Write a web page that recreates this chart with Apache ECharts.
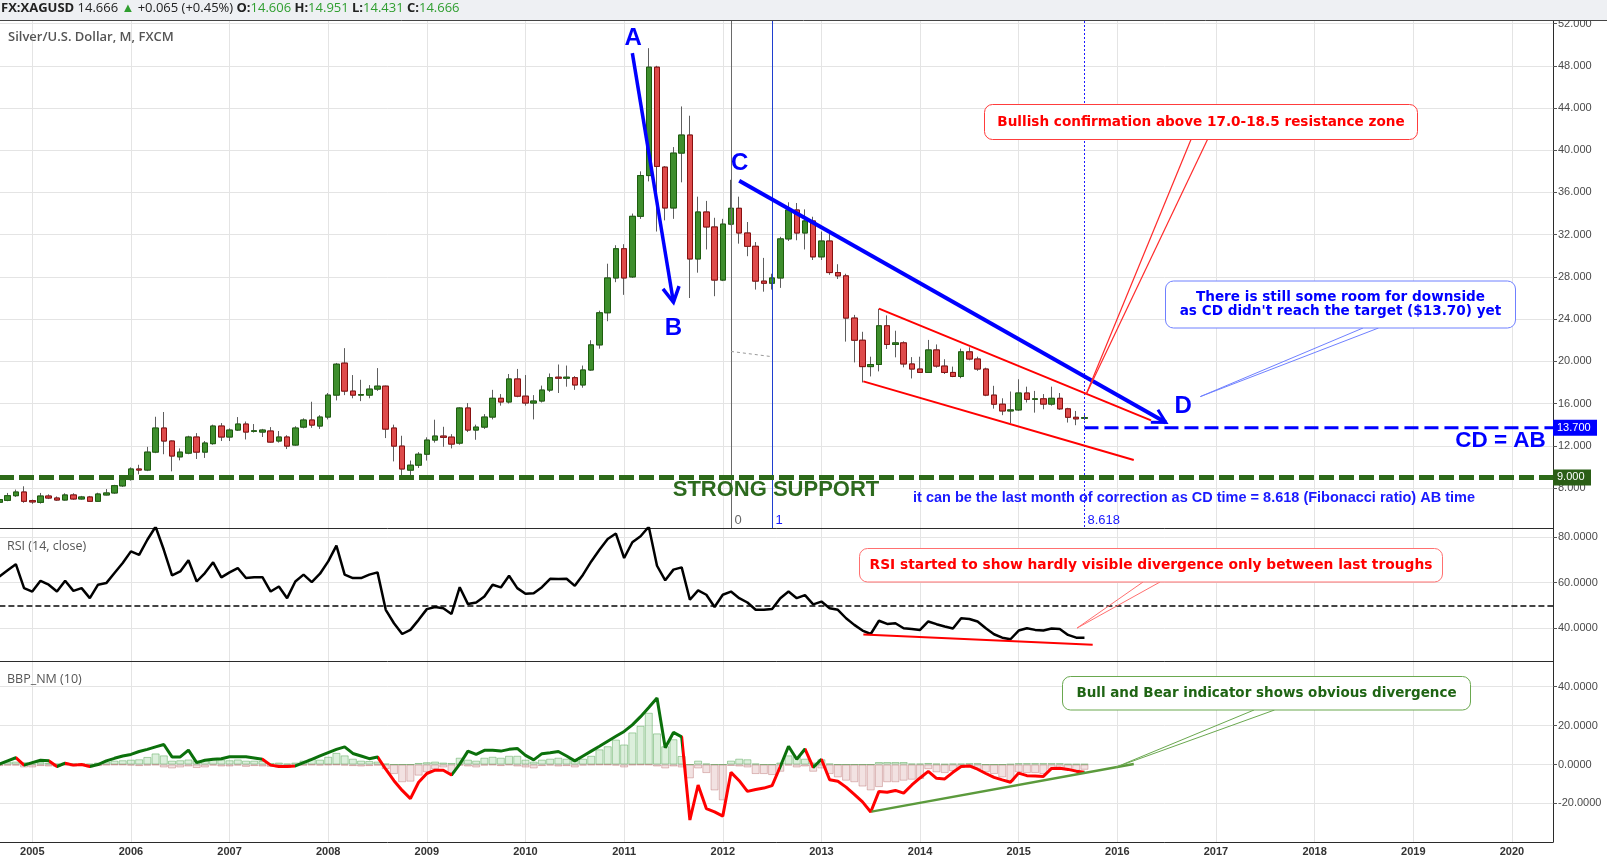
<!DOCTYPE html>
<html><head><meta charset="utf-8">
<script src="https://cdn.jsdelivr.net/npm/echarts@6/dist/echarts.min.js"></script>
<style>html,body{margin:0;padding:0;background:#fff;}#c{width:1607px;height:863px;}</style>
</head><body><div id="c"></div>
<script>
// ---------- categories (monthly, Sep 2004 .. Jun 2020) ----------
const startYear = 2004, startMonth = 9, monthCount = 190;
const categories = [];
for (let k = 0; k < monthCount; k++) {
  const m = startMonth - 1 + k;
  categories.push((startYear + Math.floor(m / 12)) + '-' + String(m % 12 + 1).padStart(2, '0'));
}

// ---------- price candles [open, close, low, high] ----------
const ohlc = [
  // 2004 Sep-Dec
  [6.65,6.9,6.55,7.0],[6.83,7.27,6.75,7.53],[7.27,7.62,7.15,7.85],[7.62,6.74,6.6,8.16],
  // 2005
  [6.8,6.68,6.5,6.9],[6.64,7.24,6.52,7.53],[7.24,7.05,6.95,7.4],[7.05,6.86,6.78,7.2],[6.86,7.34,6.8,7.5],[7.34,6.96,6.88,7.5],
  [6.96,7.15,6.9,7.25],[7.15,6.74,6.68,7.25],[6.74,7.43,6.7,7.55],[7.34,7.53,7.3,7.9],[7.53,8.22,7.45,8.3],[8.2,8.8,8.1,8.95],
  // 2006
  [8.8,9.8,8.7,9.95],[9.8,9.7,9.3,10.2],[9.7,11.4,9.6,11.9],[11.4,13.68,11.3,14.75],[13.68,12.45,11.2,15.2],[12.45,11.03,9.58,12.5],
  [10.95,11.4,10.62,11.75],[11.3,12.83,11.2,12.95],[12.83,11.4,10.75,13.2],[11.4,12.26,10.85,12.45],[12.2,13.87,12.1,14.0],[13.87,12.83,12.45,14.15],
  // 2007
  [12.83,13.49,12.45,13.65],[13.49,14.06,13.4,14.72],[14.06,13.3,12.6,14.3],[13.37,13.42,13.25,14.06],[13.3,13.49,12.83,13.6],[13.4,12.35,12.3,13.77],
  [12.45,12.83,12.3,13.4],[12.83,11.97,11.69,13.0],[12.07,13.68,12.0,13.85],[13.77,14.44,13.65,14.6],[14.44,13.96,13.7,16.17],[13.87,14.72,13.6,14.9],
  // 2008
  [14.72,16.8,14.5,17.0],[16.8,19.73,16.3,19.85],[19.83,17.18,16.8,21.25],[17.18,16.8,16.5,18.7],[16.8,16.85,16.23,18.25],[16.8,17.37,16.5,17.75],
  [17.37,17.65,17.2,19.36],[17.65,13.58,12.73,17.7],[13.68,11.97,10.52,14.0],[11.97,9.8,8.9,12.95],[9.69,10.16,9.15,10.6],[10.16,11.2,9.9,11.4],
  // 2009
  [11.2,12.54,10.6,12.8],[12.54,12.92,12.3,14.47],[12.92,12.8,11.9,13.8],[12.82,12.16,11.75,13.1],[12.25,15.58,12.1,15.65],[15.58,13.49,13.3,16.05],
  [13.49,13.77,12.57,14.0],[13.77,14.72,13.6,15.0],[14.72,16.5,14.5,17.3],[16.5,16.15,15.8,16.9],[16.15,18.33,16.0,18.8],[18.33,16.7,16.6,19.28],
  // 2010
  [16.7,16.05,15.8,18.7],[16.05,16.24,14.5,16.8],[16.24,17.28,16.1,17.7],[17.28,18.45,17.1,18.85],[18.5,18.4,17.0,19.7],[18.4,18.5,17.6,19.6],
  [18.45,17.76,17.3,18.6],[17.76,19.18,17.5,19.6],[19.18,21.56,19.1,22.0],[21.56,24.6,21.2,24.8],[24.6,27.9,23.8,29.25],[27.9,30.67,27.5,31.0],
  // 2011
  [30.67,27.9,26.3,31.1],[28.0,33.74,27.9,34.0],[33.74,37.6,33.5,38.0],[37.6,47.87,37.05,49.67],[47.87,38.47,32.3,48.0],[38.4,34.53,33.36,38.5],
  [34.53,39.73,33.5,40.3],[39.73,41.44,36.96,44.15],[41.44,29.7,26.0,43.27],[29.7,34.15,28.4,35.6],[34.15,32.73,30.6,35.2],[32.73,27.7,26.17,33.6],
  // 2012
  [27.7,33.0,27.6,33.5],[33.0,34.5,32.9,37.2],[34.5,32.16,31.15,35.6],[32.16,30.9,29.96,33.2],[30.9,27.6,26.8,31.3],[27.6,27.4,26.6,29.8],
  [27.4,27.9,26.8,28.3],[27.9,31.6,26.96,31.8],[31.6,34.34,31.4,35.07],[34.34,32.16,31.47,35.0],[32.16,33.3,30.6,34.4],[33.3,29.9,29.6,33.7],
  // 2013
  [29.9,31.4,29.6,32.3],[31.4,28.41,28.2,32.1],[28.41,28.1,27.8,29.2],[28.1,24.1,21.87,28.3],[24.1,22.0,19.9,24.4],[22.0,19.5,18.0,22.8],
  [19.5,19.7,18.57,20.44],[19.7,23.37,19.05,24.98],[23.37,21.6,21.17,24.35],[21.6,21.75,20.38,22.9],[21.75,19.75,19.43,21.9],[19.75,19.27,18.38,20.4],
  // 2014
  [19.27,18.95,18.9,20.44],[18.95,21.08,18.9,22.03],[21.08,19.55,19.4,21.6],[19.55,18.95,18.8,20.2],[18.95,18.57,18.5,19.5],[18.57,20.9,18.4,21.2],
  [20.9,20.22,20.1,21.33],[20.22,19.27,19.1,20.44],[19.27,16.8,16.7,19.4],[16.8,15.94,15.52,17.68],[15.94,15.3,14.9,16.5],[15.3,15.4,14.15,17.14],
  // 2015 Jan-Sep
  [15.4,17.0,15.3,18.3],[17.0,16.4,16.1,17.6],[16.4,16.45,15.14,17.2],[16.45,15.95,15.46,16.9],[15.95,16.5,15.8,17.6],[16.5,15.5,15.4,17.0],
  [15.5,14.7,14.2,15.6],[14.7,14.55,13.95,15.3],[14.606,14.666,14.431,14.951]
];

// ---------- RSI (14, close) ----------
const rsi = [
  62.7,65.4,68.1,57.6,
  56.1,60.8,59.1,56.1,60.8,56.4,57.6,53.2,59.1,59.8,64.2,68.6,
  73.7,72.2,78.8,84.5,74.4,63.2,64.9,69.8,60.5,64.2,68.9,62.3,
  64.5,66.4,62.0,62.4,62.4,56.1,58.3,53.2,60.5,63.5,60.2,63.9,
  69.3,76.2,63.5,62.0,62.0,63.5,64.5,48.1,42.2,37.5,39.3,43.7,
  48.4,49.3,48.8,46.3,58.0,50.6,51.3,53.9,59.1,57.9,63.0,57.6,
  55.1,55.4,58.0,61.7,61.6,61.7,58.6,63.5,69.3,74.4,79.1,81.5,
  70.8,77.7,80.3,84.5,67.4,61.0,65.7,66.7,52.5,56.6,54.7,49.3,
  54.7,56.1,53.2,51.3,48.1,48.1,48.5,53.2,56.1,53.2,54.5,50.5,
  51.7,48.8,48.1,44.4,41.5,39.0,37.5,43.3,41.9,42.2,40.0,39.7,
  39.3,43.0,41.8,40.8,39.9,44.4,44.1,43.0,40.0,37.4,35.9,35.2,
  39.0,40.0,39.3,39.0,39.9,39.7,37.1,35.9,35.9
];

// ---------- BBP_NM (10) line ----------
const bbpLine = [
  0.2,1.9,3.5,-0.3,
  1.0,2.2,1.9,-1.0,0.7,-0.3,0,-1.0,0,1.9,3.2,4.4,
  5.2,6.7,7.8,9.1,10.3,3.9,3.9,7.4,1.0,2.2,2.7,3.0,
  4.0,4.0,4.0,3.4,2.7,-0.3,-1.0,-1.0,-0.7,1.0,2.7,4.4,
  6.1,7.8,9.1,5.7,4.4,3.0,3.9,-2.4,-8.3,-13.3,-17.5,-9.1,
  -4.6,-2.9,-2.9,-5.4,0.2,6.9,5.2,7.3,7.3,6.9,7.8,8.3,
  4.7,2.4,5.6,6.1,6.7,4.4,1.9,4.4,6.9,9.4,12.0,14.5,
  17.0,20.4,24.6,29.3,34.2,8.6,16.5,14.2,-28.5,-10.5,-22.6,-24.3,
  -26.5,-4.0,-8.3,-13.8,-12.8,-12.1,-10.8,-1.0,9.4,2.7,8.0,-1.5,
  2.7,-7.8,-8.6,-11.6,-15.3,-19.2,-24.4,-13.8,-14.2,-13.3,-14.7,-10.5,
  -6.9,-3.5,-7.1,-7.4,-4.0,-1.0,-0.7,-2.4,-4.6,-6.6,-7.9,-9.1,
  -4.4,-5.7,-5.9,-6.1,-2.0,-1.9,-2.5,-3.4,-4.0
];
// month-index ranges where the BBP line is drawn red
const bbpRedRanges = [[2,3],[6,7],[8,11],[32,36],[46,55],[83,95],[98,99],[100,132]];

// ---------- bull / bear power histogram ----------
const bullPower = [
  1.0,1.5,1.5,1.2,
  0.5,1.2,0.8,0.5,1.0,0.6,0.5,0.4,1.0,1.5,2.0,2.2,
  2.5,2.7,3.9,5.7,4.7,2.0,2.2,2.6,2.0,2.2,2.8,2.5,
  2.2,2.6,2.0,2.0,1.8,0.8,1.0,0.5,1.0,2.0,3.0,2.5,
  4.0,6.0,4.7,3.0,2.0,1.8,1.5,0.5,0,0,0,0.8,
  1.2,1.5,1.0,0.8,3.5,2.5,2.0,3.5,4.0,3.5,4.5,4.5,
  2.5,1.5,2.5,3.0,3.5,3.0,2.0,3.0,4.5,7.8,9.4,12.8,
  10.3,16.5,19.9,26.6,16.0,9.4,13.0,4.4,0,2.0,0.5,0,
  0,2.0,3.0,2.7,0.5,0,0,1.0,4.7,4.0,3.0,1.0,
  2.7,0.5,0,0,0,0,0,1.3,1.3,1.3,1.3,0.5,
  0.5,0.8,0.5,0.3,0.5,0.5,0.7,0.7,0,0,0,0.3,
  0.7,0.7,0.7,0.7,0.7,0.7,0.3,0.3,0.3
];
const bearPower = [
  -0.8,-0.5,-0.5,-1.5,
  -1.5,-0.8,-1.0,-1.2,-0.5,-1.0,-0.8,-1.5,-0.8,-0.3,-0.2,-0.2,
  -0.5,-0.8,-0.5,-0.3,-1.5,-2.0,-1.5,-1.0,-1.8,-1.5,-0.5,-1.0,
  -1.0,-0.5,-1.2,-0.8,-1.0,-1.2,-1.5,-1.8,-0.8,-0.5,-0.3,-0.5,
  -0.3,-0.2,-0.5,-0.8,-1.0,-0.8,-0.5,-2.4,-4.9,-9.1,-8.8,-5.7,
  -4.0,-2.4,-1.5,-4.4,-0.5,-1.0,-1.5,-0.5,-0.3,-0.8,-0.3,-1.0,
  -1.5,-2.0,-0.8,-0.5,-1.0,-0.8,-1.5,-0.5,-0.3,-0.2,-0.2,-0.5,
  -1.5,-0.3,-0.2,-0.2,-1.0,-2.0,-1.0,-1.5,-7.1,-2.0,-4.4,-13.3,
  -18.4,-0.7,-1.0,-1.5,-4.9,-4.9,-5.4,-3.7,-0.5,-1.5,-1.0,-3.7,
  -2.0,-4.9,-6.6,-8.3,-9.1,-11.3,-13.3,-11.6,-9.1,-9.1,-8.3,-7.8,
  -7.4,-2.4,-4.0,-4.4,-3.4,-1.7,-1.0,-2.4,-4.0,-4.9,-6.6,-8.8,
  -4.0,-4.4,-4.4,-4.9,-2.7,-2.0,-2.7,-3.2,-2.7
];

// ---------- axis ticks ----------
const priceTicks = [8,12,16,20,24,28,32,36,40,44,48,52];
const rsiTicks = [40,60,80];
const bbpTicks = [-20,0,20,40];

// ---------- annotation anchors (month index, value) ----------
const abArrow = [[77.0,49.2],[82.0,25.6]];
const cdLine = [[90.0,37.1],[141.9,14.2]];
const channelTop = [[107.0,25.0],[140.1,14.4]];
const channelBottom = [[105.1,18.1],[138.0,10.65]];
const pointLabels = [['A',77.1,50.6],['B',82.0,23.16],['C',90.05,38.8],['D',144.0,15.77]];
const supportLevel = 9.0, targetLevel = 13.7, targetStart = 132;
const fibIdx = [89,94,132], fibLabels = ['0','1','8.618'];
const fibDash = [[89,20.94],[94,20.44]];
const rsiDivergence = [[105.1,37.3],[133.0,32.8]];
const bbpDivergence = [[106.1,-24.2],[138.0,0.3]];
const tipBullish = [132.2,16.85], tipRoom = [146.1,16.66], tipRsi = [131.1,40.1], tipBbp = [135.8,-1.4];

// ---------- chart ----------
const chart = echarts.init(document.getElementById('c'));
const isJan = (idx, val) => String(val).slice(5) === '01';
const gridColor = '#e4e4e4';
const axisFont = 'Liberation Sans, Arial, sans-serif';
const noteFont = '"DejaVu Sans", Verdana, sans-serif';

function yAx(g, min, max, ticks, dec) {
  return {
    type: 'value', gridIndex: g, position: 'right', min, max,
    axisLine: { show: true, lineStyle: { color: '#2b2b2b', width: 1 } },
    axisTick: { show: true, length: 4, customValues: ticks, lineStyle: { color: '#555' } },
    axisLabel: { customValues: ticks, formatter: v => Number(v).toFixed(dec), color: '#4a4a4a', fontSize: 11, fontFamily: axisFont, margin: 5 },
    splitLine: { show: true, lineStyle: { color: gridColor, width: 1 } }
  };
}

const bodies = ohlc.map(d => [d[0], d[1], Math.min(d[0], d[1]), Math.max(d[0], d[1])]);

const option = {
  animation: false,
  backgroundColor: '#ffffff',
  grid: [
    { left: -0.6, right: 54, top: 20, height: 508, outerBoundsMode: 'none' },
    { left: -0.6, right: 54, top: 528, height: 133, outerBoundsMode: 'none' },
    { left: -0.6, right: 54, top: 661, height: 181, outerBoundsMode: 'none' }
  ],
  xAxis: [0, 1, 2].map(g => ({
    type: 'category', gridIndex: g, data: categories, boundaryGap: false,
    axisLine: { show: true, onZero: false, lineStyle: { color: '#2b2b2b', width: 1 } },
    axisTick: { show: false },
    axisLabel: { show: g === 2, interval: isJan, formatter: v => v.slice(0, 4), color: '#333', fontWeight: 'bold', fontSize: 11, fontFamily: axisFont, margin: 4 },
    splitLine: { show: true, interval: isJan, alignWithLabel: true, lineStyle: { color: gridColor, width: 1 } }
  })),
  yAxis: [
    yAx(0, 4.21, 52.34, priceTicks, 3),
    yAx(1, 25.67, 83.94, rsiTicks, 4),
    yAx(2, -39.8, 53.2, bbpTicks, 4)
  ],
  visualMap: [{
    type: 'piecewise', show: false, seriesIndex: 5, dimension: 0,
    pieces: bbpRedRanges.map(r => ({ gte: r[0], lte: r[1], color: '#ff0000' })),
    outOfRange: { color: '#0b700b' }
  }],
  series: [
    { type: 'candlestick', xAxisIndex: 0, yAxisIndex: 0, data: ohlc, barWidth: 6, z: 2,
      itemStyle: { color: 'rgba(0,0,0,0)', color0: 'rgba(0,0,0,0)', borderColor: '#5e5e5e', borderColor0: '#5e5e5e', borderColorDoji: '#5e5e5e', borderWidth: 1 } },
    { type: 'candlestick', xAxisIndex: 0, yAxisIndex: 0, data: bodies, barWidth: 6, z: 3,
      itemStyle: { color: '#3e8e2d', color0: '#de4b4b', borderColor: '#1d5e0e', borderColor0: '#8a0f0f', borderColorDoji: '#1d5e0e', borderWidth: 1 } },
    { type: 'line', xAxisIndex: 1, yAxisIndex: 1, data: rsi, symbol: 'none', z: 5,
      lineStyle: { color: '#000', width: 2.5 },
      markLine: { silent: true, symbol: 'none', label: { show: false }, lineStyle: { color: '#444', type: [6, 3], width: 2 }, data: [{ yAxis: 50 }] } },
    { type: 'bar', xAxisIndex: 2, yAxisIndex: 2, data: bullPower, barWidth: 8, z: 2,
      itemStyle: { color: 'rgba(110,190,110,0.24)', borderColor: 'rgba(90,170,90,0.5)', borderWidth: 1 } },
    { type: 'bar', xAxisIndex: 2, yAxisIndex: 2, data: bearPower, barWidth: 8, barGap: '-100%', z: 2,
      itemStyle: { color: 'rgba(190,110,110,0.2)', borderColor: 'rgba(180,100,100,0.4)', borderWidth: 1 } },
    { type: 'line', xAxisIndex: 2, yAxisIndex: 2, data: bbpLine, symbol: 'none', z: 5, lineStyle: { width: 3 } }
  ]
};
chart.setOption(option);

// ---------- drawn annotations ----------
const AXIS_X = 1553;
function P(g, i, v) {
  const i0 = Math.floor(i), f = i - i0;
  const a = chart.convertToPixel({ gridIndex: g }, [i0, v]);
  const b = chart.convertToPixel({ gridIndex: g }, [i0 + 1, v]);
  return [a[0] + f * (b[0] - a[0]), a[1]];
}
const G = [];
function line(a, b, stroke, w, dash, z) {
  G.push({ type: 'line', silent: true, z: z || 60, shape: { x1: a[0], y1: a[1], x2: b[0], y2: b[1] },
    style: { stroke, lineWidth: w, lineDash: dash || null, lineCap: 'butt' } });
}
function text(x, y, t, font, fill, align, z) {
  G.push({ type: 'text', silent: true, z: z || 70, x, y,
    style: { text: t, font, fill, align: align || 'left', verticalAlign: 'middle', textAlign: align || 'left', textVerticalAlign: 'middle' } });
}
function rect(x, y, w, h, fill, stroke, r, z) {
  G.push({ type: 'rect', silent: true, z: z || 65, shape: { x, y, width: w, height: h, r: r || 0 },
    style: { fill, stroke: stroke || null, lineWidth: 1 } });
}
function arrowHead(a, b, len, ang, stroke, w) {
  const t = Math.atan2(b[1] - a[1], b[0] - a[0]);
  const p1 = [b[0] - len * Math.cos(t - ang), b[1] - len * Math.sin(t - ang)];
  const p2 = [b[0] - len * Math.cos(t + ang), b[1] - len * Math.sin(t + ang)];
  G.push({ type: 'polyline', silent: true, z: 61, shape: { points: [p1, b, p2] },
    style: { stroke, lineWidth: w, fill: null, lineJoin: 'miter' } });
}

// header
rect(0, 0, 1607, 20, '#eef0f3', null, 0, 80);
line([0, 20.5], [1607, 20.5], '#444', 1, null, 81);
G.push({ type: 'text', silent: true, z: 82, x: 1, y: 8, style: {
  text: '{b|FX:XAGUSD} {n|14.666} {g|▲} {n|+0.065 (+0.45%)} {b|O:}{g|14.606} {b|H:}{g|14.951} {b|L:}{g|14.431} {b|C:}{g|14.666}',
  verticalAlign: 'middle', textVerticalAlign: 'middle',
  rich: {
    b: { font: 'bold 13px "Open Sans", sans-serif', fill: '#222' },
    n: { font: '13px "Open Sans", sans-serif', fill: '#222' },
    g: { font: '13px "Open Sans", sans-serif', fill: '#2f9e2f' }
  } } });

// pane titles
text(8, 37, 'Silver/U.S. Dollar, M, FXCM', '600 13px "Open Sans", sans-serif', '#555');
text(7, 546, 'RSI (14, close)', '12.5px "Open Sans", sans-serif', '#555');
text(7, 679, 'BBP_NM (10)', '12.5px "Open Sans", sans-serif', '#555');

// support & target levels
const ySup = P(0, 0, supportLevel)[1];
line([-1, ySup], [AXIS_X, ySup], '#2d6a19', 5, [15, 5], 55);
const tgtA = P(0, targetStart, targetLevel);
line([tgtA[0], tgtA[1]], [AXIS_X, tgtA[1]], '#0000ff', 3, [14, 6], 55);
rect(AXIS_X, tgtA[1] - 8, 44, 16, '#0000ff', null, 0, 90);
text(AXIS_X + 4, tgtA[1], targetLevel.toFixed(3), '11px ' + axisFont, '#fff', 'left', 91);
rect(AXIS_X, ySup - 8, 38, 16, '#2b5e16', null, 0, 90);
text(AXIS_X + 4, ySup, supportLevel.toFixed(3), '11px ' + axisFont, '#fff', 'left', 91);

// fibonacci time zones
const fibColors = ['#6a6a6a', '#1f3fd0', '#1a1aff'];
fibIdx.forEach((idx, k) => {
  const x = Math.round(P(0, idx, 0)[0]) + 0.5;
  line([x, 21], [x, 528], fibColors[k], 1, k === 2 ? [2, 2] : null, 40);
  text(x + 3, 520, fibLabels[k], '13px ' + axisFont, k === 0 ? '#666' : '#1a1aff');
});
line(P(0, fibDash[0][0], fibDash[0][1]), P(0, fibDash[1][0], fibDash[1][1]), '#999', 1, [3, 3], 40);

// trend lines
const ab0 = P(0, abArrow[0][0], abArrow[0][1]), ab1 = P(0, abArrow[1][0], abArrow[1][1]);
line(ab0, ab1, '#0000ff', 3.5);
arrowHead(ab0, ab1, 17, 0.5, '#0000ff', 3.5);
const cd0 = P(0, cdLine[0][0], cdLine[0][1]), cd1 = P(0, cdLine[1][0], cdLine[1][1]);
line(cd0, cd1, '#0000ff', 4);
arrowHead(cd0, cd1, 15, 0.5, '#0000ff', 3);
line(P(0, channelTop[0][0], channelTop[0][1]), P(0, channelTop[1][0], channelTop[1][1]), '#ff0000', 2);
line(P(0, channelBottom[0][0], channelBottom[0][1]), P(0, channelBottom[1][0], channelBottom[1][1]), '#ff0000', 2);
pointLabels.forEach(p => {
  const q = P(0, p[1], p[2]);
  text(q[0], q[1], p[0], 'bold 24px ' + axisFont, '#0000ff', 'center');
});

// texts in price pane
text(776, 490, 'STRONG SUPPORT', 'bold 22px ' + axisFont, '#2d6a1e', 'center');
text(1500.5, 441, 'CD = AB', 'bold 22.5px ' + axisFont, '#0000ff', 'center');
text(913, 498, 'it can be the last month of correction as CD time = 8.618 (Fibonacci ratio) AB time', 'bold 14.5px ' + axisFont, '#1a1aff', 'left');

// callout: bullish confirmation
const tb = P(0, tipBullish[0], tipBullish[1]);
line([1191, 139.5], tb, '#ff2a2a', 1.2, null, 62);
line([1207.5, 139.5], tb, '#ff2a2a', 1.2, null, 62);
rect(984.5, 104.5, 433, 35, '#fff', '#ff3c3c', 8, 75);
text(1201, 122, 'Bullish confirmation above 17.0-18.5 resistance zone', 'bold 13.6px ' + noteFont, '#ff0000', 'center', 76);

// callout: room for downside
const tr = P(0, tipRoom[0], tipRoom[1]);
line([1363, 328], tr, '#6f80ff', 1, null, 62);
line([1378.5, 328], tr, '#6f80ff', 1, null, 62);
rect(1165.5, 281, 350, 47, '#fff', '#6f80ff', 8, 75);
text(1340.5, 297.5, 'There is still some room for downside', 'bold 13.6px ' + noteFont, '#0000ff', 'center', 76);
text(1340.5, 311.5, "as CD didn't reach the target ($13.70) yet", 'bold 13.6px ' + noteFont, '#0000ff', 'center', 76);

// RSI pane
line(P(1, rsiDivergence[0][0], rsiDivergence[0][1]), P(1, rsiDivergence[1][0], rsiDivergence[1][1]), '#ff0000', 2);
const tq = P(1, tipRsi[0], tipRsi[1]);
line([1143, 582], tq, '#ff7070', 1, null, 62);
line([1160, 582], tq, '#ff7070', 1, null, 62);
rect(859.5, 548.5, 583, 33.5, '#fff', '#ff7070', 8, 75);
text(1151, 565, 'RSI started to show hardly visible divergence only between last troughs', 'bold 13.8px ' + noteFont, '#ff0000', 'center', 76);

// BBP pane
line(P(2, bbpDivergence[0][0], bbpDivergence[0][1]), P(2, bbpDivergence[1][0], bbpDivergence[1][1]), '#5b9a3c', 2.5);
const tg = P(2, tipBbp[0], tipBbp[1]);
line([1254, 710], tg, '#6aa84f', 1, null, 62);
line([1274.5, 710], tg, '#6aa84f', 1, null, 62);
rect(1062.5, 676.5, 408, 33.5, '#fff', '#6aa84f', 8, 75);
text(1266.5, 693, 'Bull and Bear indicator shows obvious divergence', 'bold 13.5px ' + noteFont, '#1f6414', 'center', 76);

chart.setOption({ graphic: { elements: G } });
</script>
</body></html>
